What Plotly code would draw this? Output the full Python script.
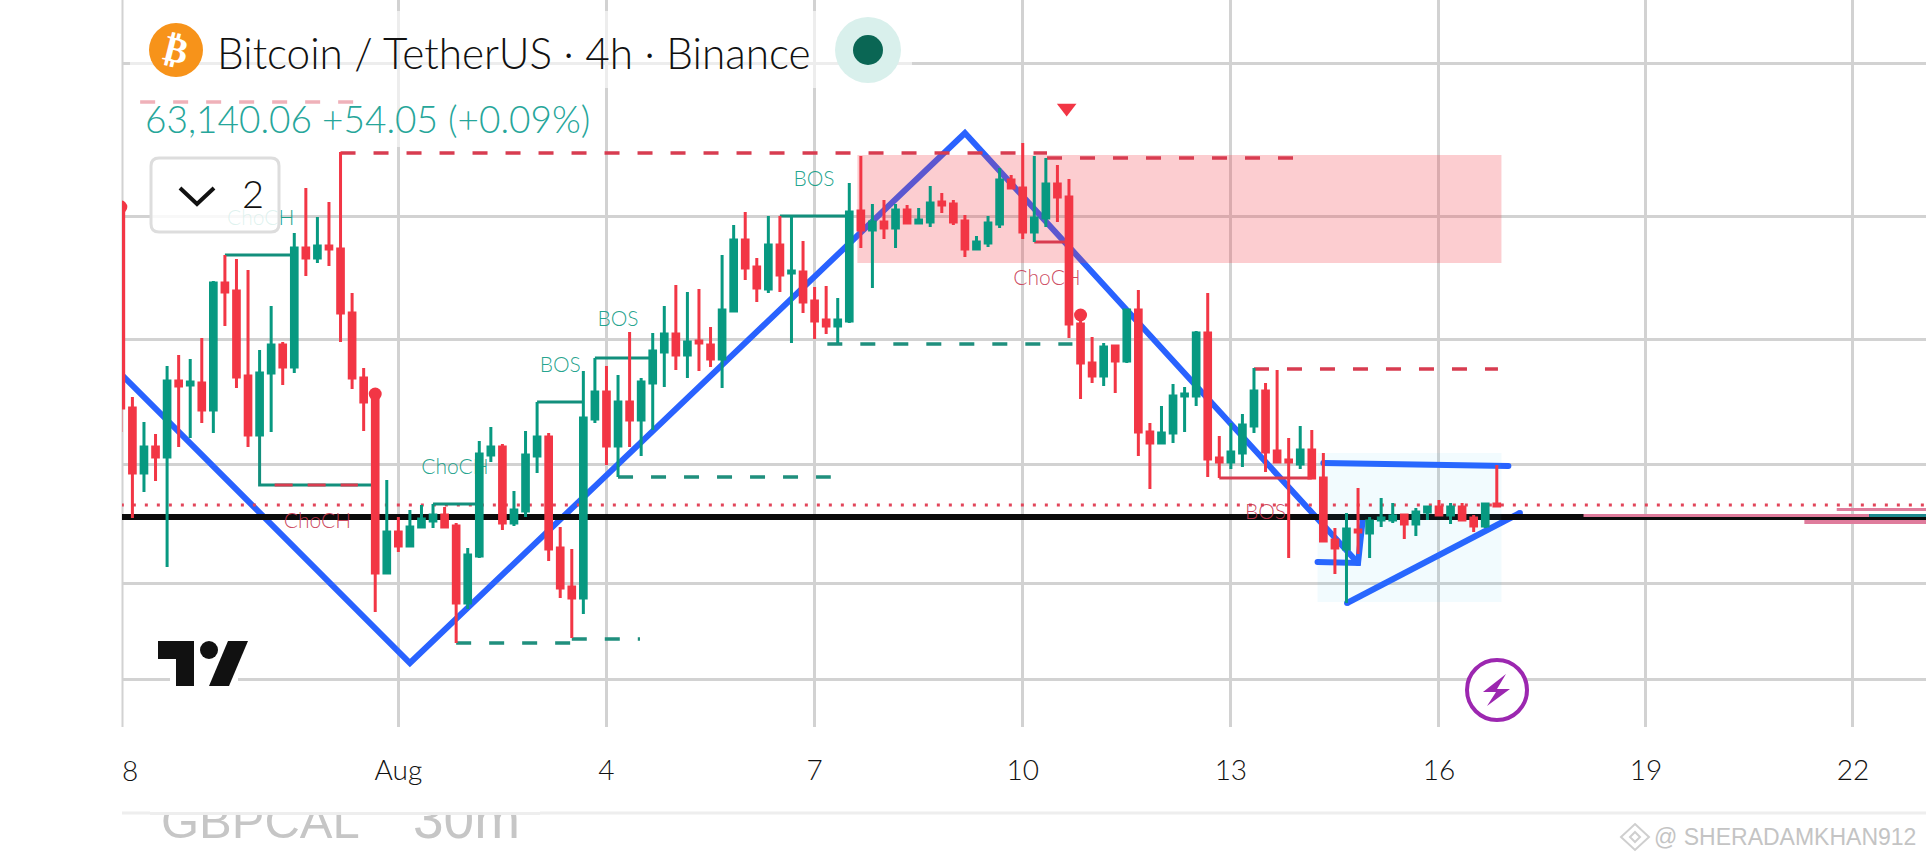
import plotly.graph_objects as go

# bar numbers run in 4h steps from the "28" gridline
opens = [66060, 64110, 63460, 63720, 63620, 64380, 64340, 64360, 64090, 65360, 65280, 64430, 63840, 64460, 64740, 64520, 65710, 65610, 65730, 65700,
         65060, 64410, 64190, 62460, 62870, 62730, 62920, 62980, 63040, 62930, 62160, 62630, 63640, 63720, 62960, 63080, 63630, 63820, 62710, 62320,
         62210, 64000, 64270, 63730, 64170, 63990, 64360, 64670, 64850, 64640, 64780, 64740, 64600, 65080, 65790, 65520, 65300, 65740, 65460, 65470,
         65180, 64990, 64930, 64980, 66080, 65890, 65970, 65910, 66090, 65960, 65970, 66170, 66150, 65980, 65700, 65760, 65950, 66390, 66310, 65870,
         66010, 66350, 66220, 64950, 64560, 64430, 64730, 64580, 65090, 63870, 63760, 63860, 64230, 64230, 64860, 63610, 63570, 63660, 63930, 64280,
         63680, 63590, 63550, 63690, 63410, 62790, 62700, 62890, 62860, 62990, 62990, 63040, 62950, 63070, 63120, 63040, 63120, 63010, 62930, 63150]
highs = [66140, 64220, 63970, 63850, 64530, 64640, 64600, 64810, 65380, 65640, 65600, 65490, 64690, 65130, 64770, 65860, 66310, 66020, 66170, 66670,
         65260, 64510, 64250, 63390, 63020, 63090, 63140, 63150, 63120, 62960, 62710, 63780, 63920, 63750, 63280, 63880, 64170, 63860, 62920, 62700,
         64480, 64610, 64530, 64440, 64870, 64410, 64860, 65130, 65340, 65270, 65300, 64920, 65640, 65940, 66070, 65610, 66030, 66030, 66030, 65780,
         65320, 65330, 65210, 66360, 66630, 66150, 66190, 66150, 66140, 66110, 66330, 66260, 66190, 66040, 65830, 66030, 66510, 66440, 66760, 66630,
         66610, 66540, 66400, 65040, 64820, 64760, 64740, 65090, 65290, 63960, 64130, 64350, 64320, 64880, 65260, 63830, 63960, 64050, 64510, 64360,
         64490, 63810, 63930, 63890, 63660, 62910, 63060, 63310, 63020, 63210, 63160, 63040, 63110, 63120, 63190, 63160, 63160, 63040, 63150, 63540]
lows = [63870, 63010, 63270, 63380, 62520, 63720, 63810, 63960, 63860, 64930, 64310, 63720, 63840, 63870, 64340, 64460, 65430, 65560, 65530, 64770,
        64300, 63880, 62070, 62460, 62670, 62730, 62920, 62910, 62920, 61760, 62100, 62610, 63570, 62890, 62930, 63020, 63460, 62580, 62210, 61810,
        62050, 63960, 63540, 63420, 63720, 63630, 63890, 64320, 64490, 64410, 64480, 64520, 64310, 65080, 65390, 65170, 65260, 65270, 64760, 65060,
        64800, 64850, 64760, 64960, 65710, 65310, 65800, 65710, 65960, 65960, 65920, 66060, 65940, 65620, 65700, 65720, 65910, 66310, 65800, 65770,
        65920, 65970, 64810, 64200, 64360, 64330, 64260, 64560, 63630, 63300, 63760, 63760, 63870, 64130, 63420, 63410, 63500, 63520, 63860, 63470,
        63570, 62610, 63500, 63410, 62780, 62450, 62160, 62650, 62610, 62920, 62960, 62800, 62830, 62990, 63040, 62950, 62990, 62870, 62910, 63120]
closes = [64110, 63460, 63720, 63620, 64380, 64330, 64370, 64090, 65360, 65270, 64420, 63840, 64460, 64740, 64520, 65710, 65610, 65730, 65700, 65060,
          64410, 64170, 62460, 62870, 62730, 62920, 63000, 63040, 62920, 62160, 62640, 63650, 63720, 62960, 63090, 63640, 63820, 62700, 62310, 62210,
          64010, 64270, 63730, 64170, 63990, 64370, 64680, 64850, 64640, 64770, 64760, 64600, 65090, 65790, 65510, 65310, 65740, 65440, 65480, 65170,
          64980, 64930, 64990, 66070, 65890, 65970, 65910, 66090, 65960, 65990, 66160, 66140, 65970, 65700, 65770, 65960, 66390, 66310, 65870, 66010,
          66350, 66220, 64950, 64560, 64430, 64720, 64580, 65090, 63870, 63760, 63860, 64230, 64250, 64860, 63600, 63570, 63670, 63940, 64280, 63670,
          63570, 63570, 63690, 63410, 62780, 62710, 62900, 62870, 62980, 63010, 63030, 62950, 63070, 63120, 63040, 63120, 62990, 62930, 63150, 63130]

tick_bars = [24, 42, 60, 78, 96, 114, 131.9, 149.8]
tick_labels = ["Aug", "4", "7", "10", "13", "16", "19", "22"]
grid_prices = [67560, 66030, 64800, 63550, 62360, 61400]

trend_x = [0.1, 25, 73, 107]
trend_y = [64440, 61560, 66860, 62560]
arrow_x = [103.5, 107, 107.4]
arrow_y = [62570, 62560, 62990]
top_edge_x = [104, 120]
top_edge_y = [63560, 63530]
low_edge_x = [106.05, 121]
low_edge_y = [62160, 63060]

level_black = 63020
level_last = 63140

supply_x = [63.7, 119.4]
supply_y = [65560, 66640]
pattern_x = [103.5, 119.4]
pattern_y = [62170, 63660]

# start bar, end bar, price
teal_solid = [(9, 15, 65640), (27, 31, 63150), (36, 40, 64170), (41, 46, 64610), (57, 63, 66030)]
teal_dashed = [(29, 39, 61760), (39, 44.9, 61800), (43, 61.4, 63420), (61.1, 82.3, 64750)]
red_solid = [(79, 82, 65770), (95, 103, 63410)]
red_dashed = [(1.67, 20.1, 67170), (19, 80.1, 66660), (80.1, 101.4, 66610), (98, 119.1, 64500)]
pink_lines = [(148.4, 156.2, 63095, 3), (145.6, 156.2, 62970, 4), (126.5, 151.2, 63035, 3)]

dot_x = [0, 22, 83]
dot_y = [66120, 64250, 65040]
sell_x = [81.8]
sell_y = [67110]

label_teal = [("BOS", 59.95, 66380), ("BOS", 43, 64980), ("BOS", 38, 64520), ("ChoCH", 28.9, 63500), ("ChoCH", 12.1, 65990)]
label_red = [("ChoCH", 17, 62965), ("ChoCH", 80.1, 65390), ("BOS", 99, 63050)]

RED = "#f23645"
GREEN = "#089981"
BLUE = "#2962ff"
GRID = "#d2d2d2"
THIN = "Lato"
W, H = 1926, 862
L, B = 122, 727


def xf(p):
    return (p - L) / (W - L)


def yf(p):
    return (B - p) / B


def poly(points, close=True):
    s = "M " + " L ".join(f"{xf(a):.5f},{yf(b):.5f}" for a, b in points)
    return s + (" Z" if close else "")


def rect_shape(x0, y0, x1, y1, fill, line=None, width=0, layer="above"):
    return dict(type="rect", xref="paper", yref="paper", x0=xf(x0), x1=xf(x1), y0=yf(y0), y1=yf(y1),
                fillcolor=fill, line=dict(color=line or "rgba(0,0,0,0)", width=width), layer=layer)


def circle_shape(cx, cy, r, fill, line=None, width=0):
    return dict(type="circle", xref="paper", yref="paper", x0=xf(cx - r), x1=xf(cx + r), y0=yf(cy + r), y1=yf(cy - r),
                fillcolor=fill, line=dict(color=line or "rgba(0,0,0,0)", width=width), layer="above")


def path_shape(points, fill="rgba(0,0,0,0)", line=None, width=0, close=True):
    return dict(type="path", xref="paper", yref="paper", path=poly(points, close), fillcolor=fill,
                line=dict(color=line or "rgba(0,0,0,0)", width=width), layer="above")


def round_box(x0, y0, x1, y1, r, fill, line, width):
    def p(a, b):
        return f"{xf(a):.5f},{yf(b):.5f}"
    path = (f"M {p(x0 + r, y0)} L {p(x1 - r, y0)} Q {p(x1, y0)} {p(x1, y0 + r)} L {p(x1, y1 - r)} Q {p(x1, y1)} {p(x1 - r, y1)} "
            f"L {p(x0 + r, y1)} Q {p(x0, y1)} {p(x0, y1 - r)} L {p(x0, y0 + r)} Q {p(x0, y0)} {p(x0 + r, y0)} Z")
    return dict(type="path", xref="paper", yref="paper", path=path, fillcolor=fill, line=dict(color=line, width=width), layer="above")


def text_note(text, x, y, size, color, anchor="left", weight=300, family=THIN, angle=0):
    return dict(text=text, xref="paper", yref="paper", x=xf(x), y=yf(y), xanchor=anchor, yanchor="middle",
                showarrow=False, textangle=angle, font=dict(size=size, color=color, family=family, weight=weight))


def blank_note(x0, y0, x1, y1, color):
    return dict(text="&nbsp;", xref="paper", yref="paper", x=xf(x0), y=yf(y0), xanchor="left", yanchor="top",
                width=x1 - x0, height=y1 - y0, bgcolor=color, borderpad=0, borderwidth=0, showarrow=False, font=dict(size=1))


def add_line(fig, x, y, color, width, dash="solid", ends=False):
    fig.add_trace(go.Scatter(x=x, y=y, mode="lines+markers" if ends else "lines", line=dict(color=color, width=width, dash=dash),
                             marker=dict(size=width, color=color), showlegend=False, hoverinfo="skip"))


def add_box(fig, x, y, fill):
    fig.add_trace(go.Scatter(x=[x[0], x[1], x[1], x[0], x[0]], y=[y[0], y[0], y[1], y[1], y[0]], mode="lines",
                             fill="toself", fillcolor=fill, line=dict(width=0), showlegend=False, hoverinfo="skip"))


fig = go.Figure()

add_line(fig, trend_x, trend_y, BLUE, 6)
add_line(fig, arrow_x, arrow_y, BLUE, 6, ends=True)
add_line(fig, top_edge_x, top_edge_y, BLUE, 6, ends=True)
add_line(fig, low_edge_x, low_edge_y, BLUE, 6, ends=True)
add_line(fig, [0, 157], [level_black, level_black], "#0b0b0b", 6)

for x0, x1, price, width in pink_lines:
    add_line(fig, [x0, x1], [price, price], "#df7c9c", width)
add_line(fig, [151.2, 156.2], [63035, 63035], "#1e8a90", 3)

add_box(fig, supply_x, supply_y, "rgba(242,54,69,0.25)")
add_box(fig, pattern_x, pattern_y, "rgba(33,180,243,0.06)")

add_line(fig, [0, 157], [level_last, level_last], "#e2455a", 3, "3px,9px")

for x0, x1, price in teal_solid:
    add_line(fig, [x0, x1], [price, price], "#128f7c", 3)
add_line(fig, [12, 12, 21.7], [63840, 63340, 63340], "#128f7c", 3)
add_line(fig, [13.3, 20.5], [63340, 63340], "#d83c50", 3, "18px,15px")
for x0, x1, price in teal_dashed:
    add_line(fig, [x0, x1], [price, price], "#1f8f7d", 3.5, "15px,18px")
for x0, x1, price in red_solid:
    add_line(fig, [x0, x1], [price, price], "#d83c50", 3)
for x0, x1, price in red_dashed:
    add_line(fig, [x0, x1], [price, price], "#d83c50", 3.5, "15px,18px")

fig.add_trace(go.Scatter(x=[a[1] for a in label_teal], y=[a[2] for a in label_teal], text=[a[0] for a in label_teal],
                         mode="text", textfont=dict(size=21, color="rgba(8,153,129,0.9)", family=THIN, weight=300),
                         showlegend=False, hoverinfo="skip"))
fig.add_trace(go.Scatter(x=[a[1] for a in label_red], y=[a[2] for a in label_red], text=[a[0] for a in label_red],
                         mode="text", textfont=dict(size=21, color="rgba(200,55,80,0.9)", family=THIN, weight=300),
                         showlegend=False, hoverinfo="skip"))

fig.add_trace(go.Candlestick(x=list(range(len(opens))), open=opens, high=highs, low=lows, close=closes, yaxis="y2",
                             increasing=dict(line=dict(color=GREEN, width=3), fillcolor=GREEN),
                             decreasing=dict(line=dict(color=RED, width=3), fillcolor=RED),
                             whiskerwidth=0, showlegend=False, hoverinfo="skip"))
fig.add_trace(go.Scatter(x=dot_x, y=dot_y, mode="markers", yaxis="y2", marker=dict(size=13, color=RED),
                         showlegend=False, hoverinfo="skip"))
fig.add_trace(go.Scatter(x=sell_x, y=sell_y, mode="markers", yaxis="y2",
                         marker=dict(size=17, color=RED, symbol="triangle-down"), showlegend=False, hoverinfo="skip"))

shapes = [
    rect_shape(121.5, 0, 123.5, 727, GRID, layer="below"),
    # faded strips behind the symbol text
    rect_shape(130, 11, 912, 88, "rgba(255,255,255,0.6)"),
    rect_shape(130, 88, 600, 147, "rgba(255,255,255,0.6)"),
    circle_shape(176, 50, 27, "#f7931a"),
    circle_shape(868, 50, 33, "#d9f0ec"),
    circle_shape(868, 50, 15, "#0a6654"),
    # collapse button
    round_box(151, 158, 279, 232, 8, "rgba(255,255,255,0.85)", "#dddddd", 3),
    path_shape([(180, 188), (197, 204), (214, 188)], line="#111111", width=4, close=False),
    # logo
    rect_shape(170, 676, 238, 682, "#ffffff"),
    path_shape([(158, 641), (194, 641), (194, 686), (176, 686), (176, 659), (158, 659)], fill="#111111"),
    circle_shape(209, 650, 9, "#111111"),
    path_shape([(228, 641), (248, 641), (229, 686), (209, 686)], fill="#111111"),
    # bolt badge
    circle_shape(1497, 690, 30, "#ffffff", "#9c27b0", 4),
    path_shape([(1506, 674), (1483, 692), (1496, 692), (1487, 706), (1510, 689), (1497, 689)], fill="#9c27b0"),
    # page line and watermark mark
    rect_shape(122, 811.5, 1926, 814.5, "#eeeeee"),
    path_shape([(1635, 824), (1649, 837), (1635, 850), (1621, 837)], line="#cfcfcf", width=2),
    path_shape([(1635, 832), (1640, 837), (1635, 842), (1630, 837)], line="#cfcfcf", width=2),
]

notes = [
    text_note("Bitcoin / TetherUS · 4h · Binance", 215, 52, 42.3, "#111111"),
    text_note("63,140.06 +54.05 (+0.09%)", 143, 118, 37, "#26a69a"),
    text_note("₿", 176, 50, 36, "#ffffff", "center", 700, "DejaVu Sans", 14),
    text_note("2", 253, 193, 38, "#111111", "center"),
    text_note("8", 130, 770, 28, "#111111", "center"),
    text_note("GBPCAL", 159, 821, 49, "#c6c6c6", weight=400, family="Liberation Sans"),
    text_note("30m", 411, 819, 55, "#c6c6c6", weight=400, family="Liberation Sans"),
    # the symbol row is cut by the page line
    blank_note(150, 788, 540, 812, "#ffffff"),
    blank_note(150, 812, 540, 815, "#eeeeee"),
    text_note("@ SHERADAMKHAN912", 1652, 837, 23, "#c4c4c4", weight=400, family="Liberation Sans"),
]

fig.update_layout(
    width=W, height=H,
    paper_bgcolor="#ffffff", plot_bgcolor="#ffffff",
    margin=dict(l=L, r=0, t=0, b=H - B, pad=0),
    showlegend=False,
    shapes=shapes,
    annotations=notes,
    xaxis=dict(range=[0.1, 156.12], rangeslider=dict(visible=False), showgrid=True, gridcolor=GRID, gridwidth=3,
               tickmode="array", tickvals=tick_bars, ticktext=tick_labels, zeroline=False, ticks="",
               ticklabelstandoff=24, tickfont=dict(size=28, color="#111111", family=THIN, weight=300)),
    yaxis=dict(range=[60920, 68190], showgrid=True, gridcolor=GRID, gridwidth=2.5, tickmode="array",
               tickvals=grid_prices, showticklabels=False, zeroline=False),
    yaxis2=dict(range=[60920, 68190], overlaying="y", visible=False),
)

fig.write_html("out.html", config={"displayModeBar": False},
               post_script="document.body.style.margin='0';document.body.style.overflow='hidden';")
